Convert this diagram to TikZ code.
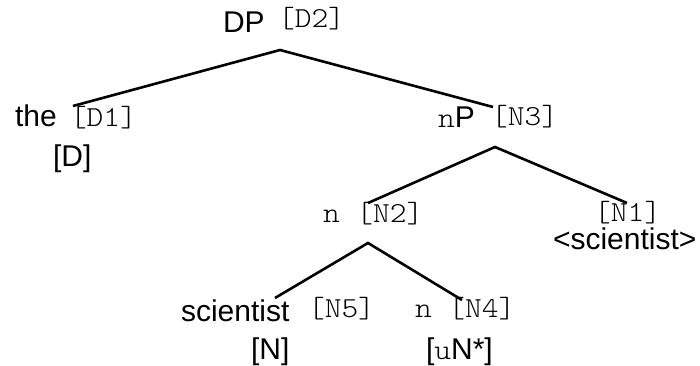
\documentclass[tikz,border=0pt]{standalone}
\usepackage{fontspec}
\setmainfont{Liberation Sans}
\setmonofont[FakeStretch=1.1]{lmmonolt10-regular.otf}
\newcommand\featfont{\fontsize{29}{33}\selectfont\ttfamily}
\newcommand\wordfont{\fontsize{30}{34}\selectfont\rmfamily}
\begin{document}
\begin{tikzpicture}[x=1pt,y=1pt,
  word/.style={anchor=base west,inner sep=0pt,outer sep=0pt,font=\wordfont},
  feat/.style={anchor=base west,inner sep=0pt,outer sep=0pt,font=\featfont},
  branch/.style={line width=2.6pt,line join=miter}]
\useasboundingbox (0,0) rectangle (700,366);

% node labels
\node[word] (dp)   at (223,333) {DP};
\node[feat] (d2)   at (278,338) {[D2]};
\node[word] (the)  at (15,239)  {the};
\node[feat] (d1)   at (70,239)  {[D1]};
\node[word] (dcat) at (53,199)  {[D]};
\node[word] (np)   at (438,238) {{\featfont n}P};
\node[feat] (n3)   at (491,240) {[N3]};
\node[feat] (n2)   at (323,143) {n [N2]};
\node[feat] (n1)   at (594,144) {[N1]};
\node[word] (copy) at (553,116) {<scientist>};
\node[word] (sci)  at (181,44)  {scientist};
\node[feat] (n5)   at (308,48)  {[N5]};
\node[word] (ncat) at (251,6)   {[N]};
\node[feat] (n4)   at (415,48)  {n [N4]};
\node[word] (un)   at (426,6)   {[{\featfont u}N*]};

% branch points
\coordinate (dp-b)  at (280,316);
\coordinate (d1-t)  at (73,260);
\coordinate (n3-t)  at (493,259);
\coordinate (n3-b)  at (495,219);
\coordinate (n2-t)  at (368,163);
\coordinate (n1-t)  at (627,163);
\coordinate (n2-b)  at (368,123);
\coordinate (n5-t)  at (275,68);
\coordinate (n4-t)  at (462,66);

% branches
\draw[branch] (d1-t) -- (dp-b) -- (n3-t);
\draw[branch] (n2-t) -- (n3-b) -- (n1-t);
\draw[branch] (n5-t) -- (n2-b) -- (n4-t);
\end{tikzpicture}
\end{document}
